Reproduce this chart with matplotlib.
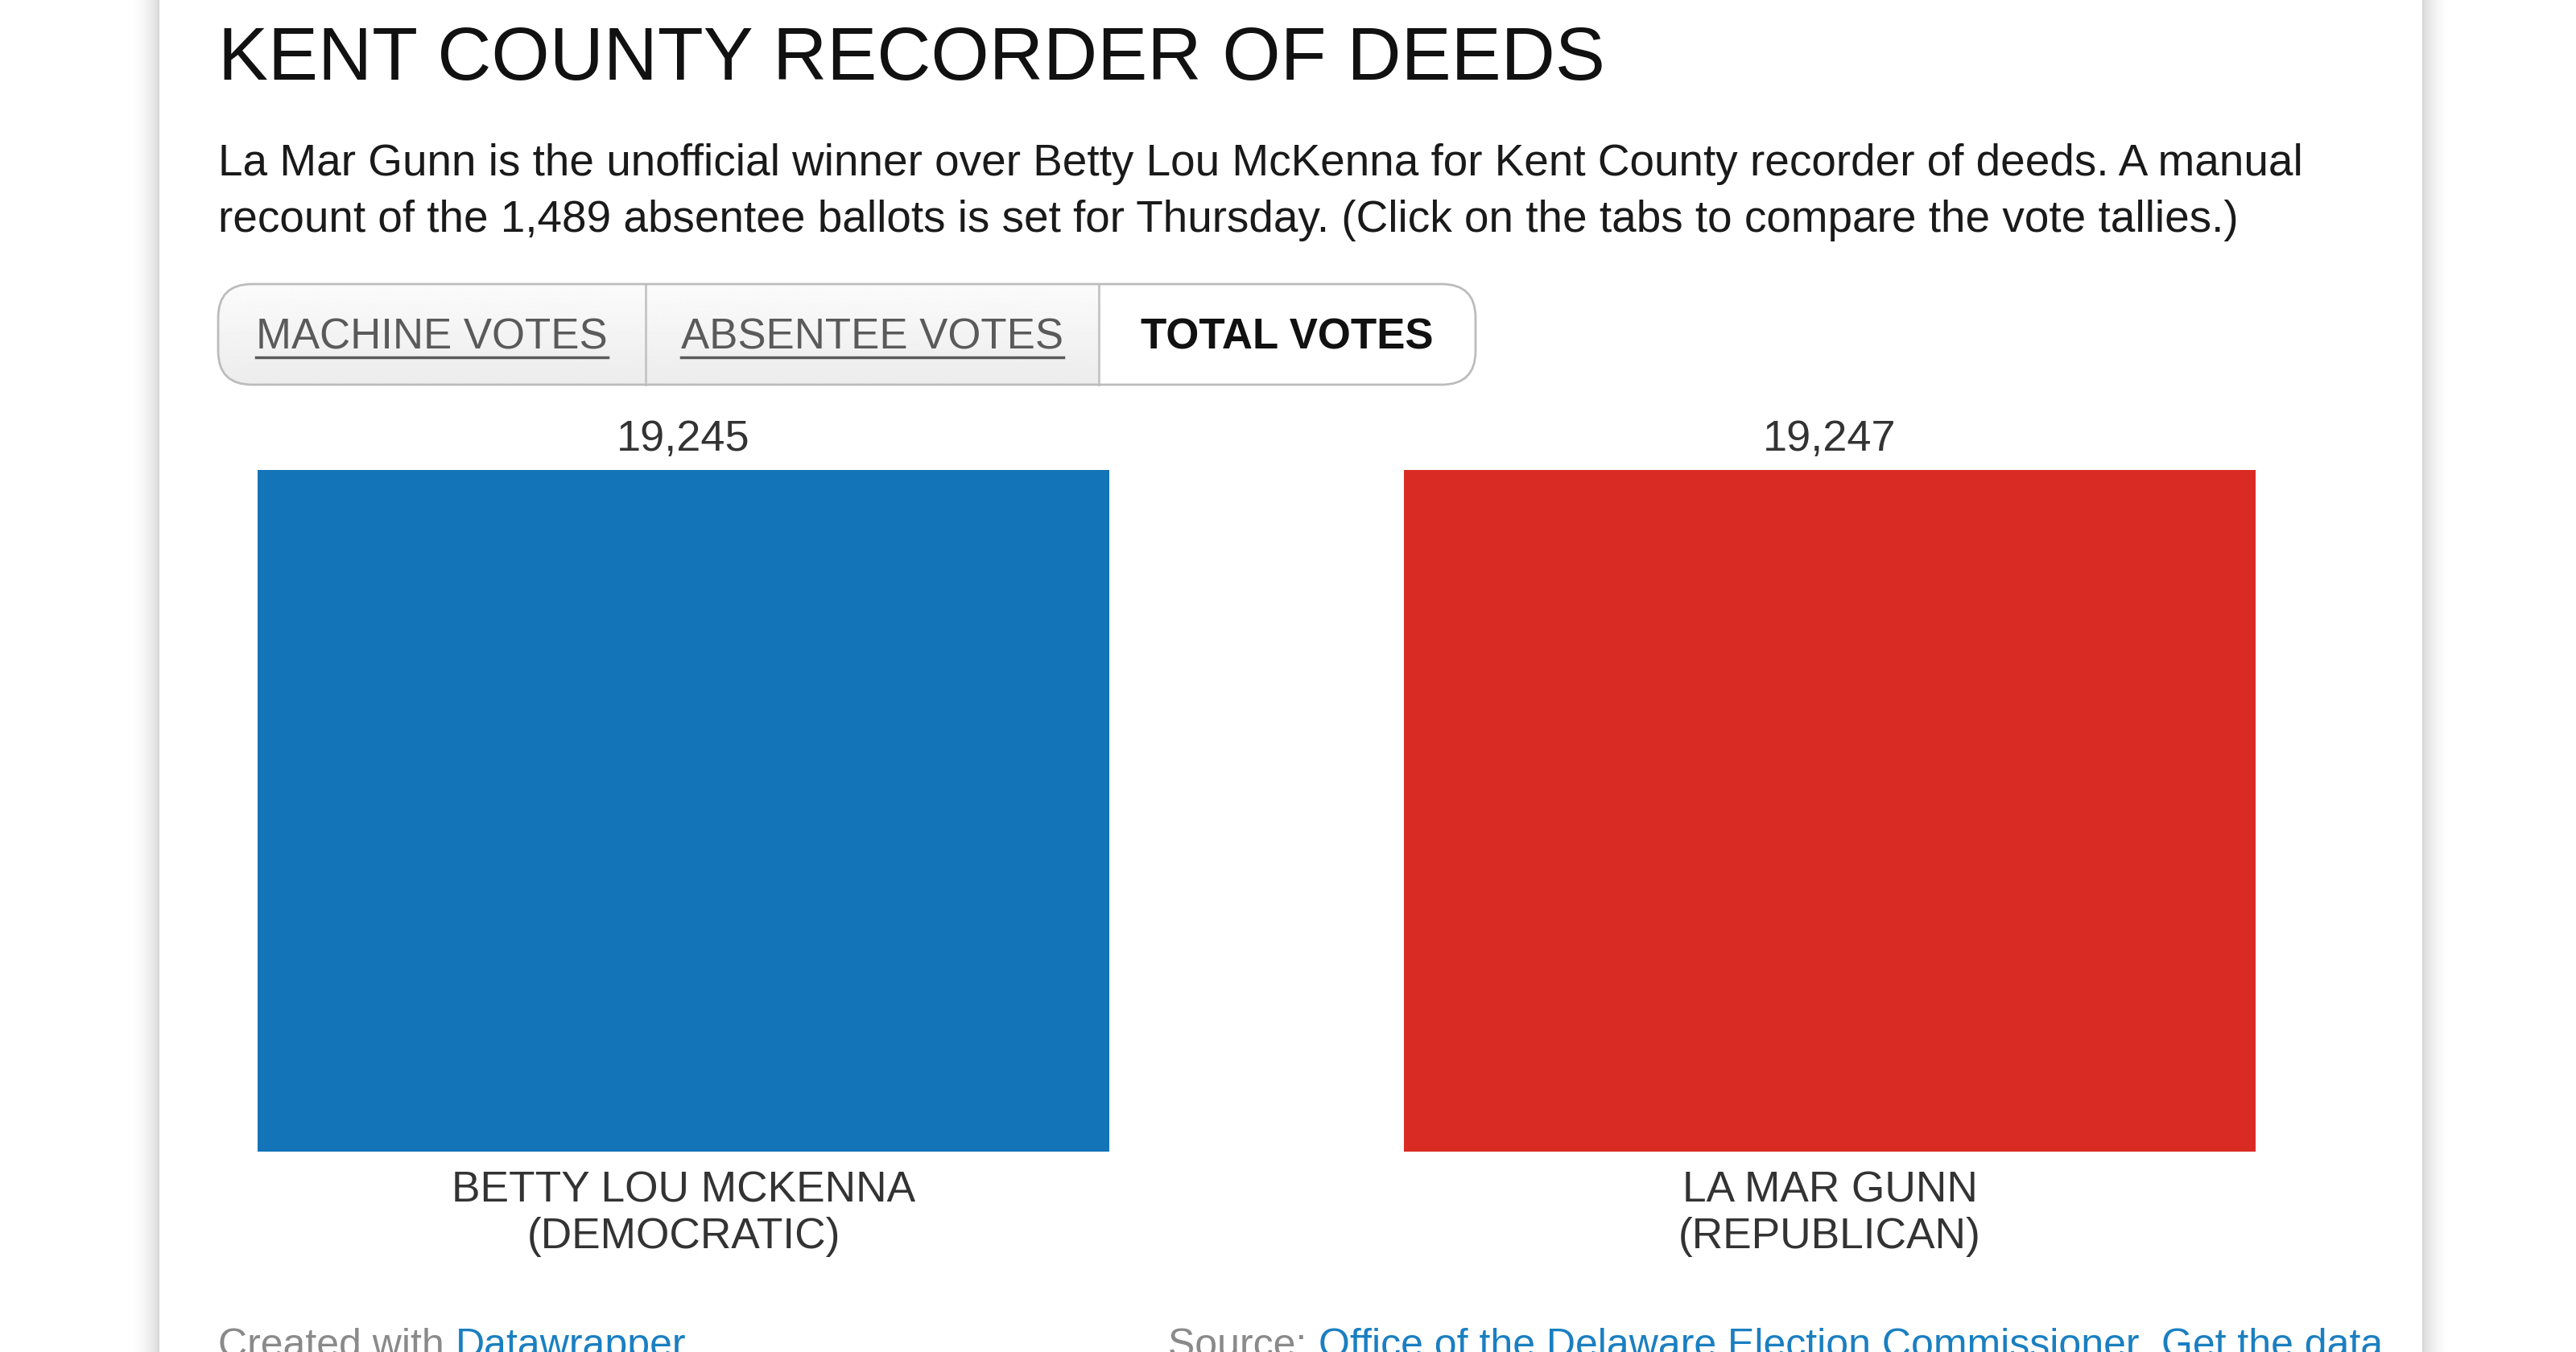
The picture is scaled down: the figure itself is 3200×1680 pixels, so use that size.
import matplotlib
matplotlib.use("Agg")
import matplotlib.pyplot as plt
import numpy as np
from matplotlib.patches import FancyBboxPatch, Rectangle

plt.rcParams['font.family'] = ['Liberation Sans', 'DejaVu Sans']

# data
candidates = ['BETTY LOU MCKENNA\n(DEMOCRATIC)', 'LA MAR GUNN\n(REPUBLICAN)']
votes = [19245, 19247]
bar_colors = ['#1374b7', '#d92b24']
tabs = ['MACHINE VOTES', 'ABSENTEE VOTES', 'TOTAL VOTES']

title = 'KENT COUNTY RECORDER OF DEEDS'
intro_lines = ['La Mar Gunn is the unofficial winner over Betty Lou McKenna for Kent County recorder of deeds. A manual',
               'recount of the 1,489 absentee ballots is set for Thursday. (Click on the tabs to compare the vote tallies.)']

W, H = 3200, 1680
fig = plt.figure(figsize=(W / 100, H / 100), dpi=100)

# background layer in pixel coordinates
bg = fig.add_axes([0, 0, 1, 1])
bg.set_xlim(0, W)
bg.set_ylim(H, 0)
bg.axis('off')

# card shadow + card
card_l, card_r = 197, 3010
for i in range(14):
    a = 0.018 * (14 - i) / 14
    bg.add_patch(Rectangle((card_l - 2 - i * 2.5, -10), card_r - card_l + 4 + i * 5, H + 20,
                           facecolor='black', alpha=a, edgecolor='none', zorder=0))
bg.add_patch(Rectangle((card_l, -10), card_r - card_l, H + 20, facecolor='white',
                       edgecolor='#d8d8d8', linewidth=1.5, zorder=1))

left = 271
bg.text(left, 99, title, fontsize=67, color='#111111', va='baseline', ha='left', zorder=3)
for i, line in enumerate(intro_lines):
    bg.text(left, 218 + 70 * i, line, fontsize=39.5, color='#1a1a1a', va='baseline', ha='left', zorder=3)

# tab bar
tab_bounds = [271, 802, 1365, 1833]
t_top, t_bot = 353, 478
outline = FancyBboxPatch((tab_bounds[0], t_top), tab_bounds[-1] - tab_bounds[0], t_bot - t_top,
                         boxstyle='round,pad=0,rounding_size=42', facecolor='white',
                         edgecolor='none', zorder=2)
bg.add_patch(outline)
grad = np.linspace(0.985, 0.925, 64).reshape(-1, 1)
im = bg.imshow(np.repeat(grad, 2, axis=1), cmap='gray', vmin=0, vmax=1, aspect='auto',
               extent=(tab_bounds[0], tab_bounds[2], t_bot, t_top), zorder=2.1, interpolation='bilinear')
im.set_clip_path(outline)
bg.add_patch(FancyBboxPatch((tab_bounds[0], t_top), tab_bounds[-1] - tab_bounds[0], t_bot - t_top,
                            boxstyle='round,pad=0,rounding_size=42', facecolor='none',
                            edgecolor='#bcbcbc', linewidth=2, zorder=2.5))
for xb in tab_bounds[1:-1]:
    bg.plot([xb, xb], [t_top, t_bot], color='#c4c4c4', lw=2, zorder=2.4)

tab_texts = []
for i, name in enumerate(tabs):
    cx = (tab_bounds[i] + tab_bounds[i + 1]) / 2
    active = i == len(tabs) - 1
    t = bg.text(cx, 433, name, fontsize=38, ha='center', va='baseline',
                color='#111111' if active else '#5a5a5a',
                fontweight='bold' if active else 'normal', zorder=3)
    tab_texts.append((t, active))

# bars
bar_w = 0.743
ax = fig.add_axes([320 / W, 1 - 1431 / H, (2802 - 320) / W, (1431 - 584) / H])
x = np.arange(len(votes))
ax.bar(x, votes, width=bar_w, color=bar_colors)
ax.set_xlim(-bar_w / 2, len(votes) - 1 + bar_w / 2)
ax.set_ylim(0, max(votes))
ax.axis('off')
for xi, v in zip(x, votes):
    ax.annotate(f'{v:,}', (xi, v), xytext=(0, 17), textcoords='offset points',
                ha='center', va='baseline', fontsize=39, color='#333333')
for xi, name in zip(x, candidates):
    ax.annotate(name, (xi, 0), xytext=(0, -17), textcoords='offset points',
                ha='center', va='top', fontsize=38.3, color='#333333', linespacing=1.19)

# footer
fy = 1686
fs = 36
gray, link = '#8a8a8a', '#1a7fc1'
t1 = bg.text(left, fy, 'Created with ', fontsize=fs, color=gray, va='baseline', zorder=3)
fig.canvas.draw()
r = fig.canvas.get_renderer()
ext = t1.get_window_extent(r)
bg.text(left + ext.width, fy, 'Datawrapper', fontsize=fs, color=link, va='baseline', zorder=3)

# right footer, built right-to-left
parts = [('Source: ', gray), ('Office of the Delaware Election Commissioner', link),
         (', ', gray), ('Get the data', link)]
xr = 2960
for s, c in reversed(parts):
    t = bg.text(xr, fy, s, fontsize=fs, color=c, va='baseline', ha='right', zorder=3)
    xr -= t.get_window_extent(r).width

# underline inactive tabs
fig.canvas.draw()
for t, active in tab_texts:
    if active:
        continue
    e = t.get_window_extent(r)
    bg.plot([e.x0, e.x1], [444, 444], color='#5a5a5a', lw=2.5, zorder=3)

fig.savefig('out.png', dpi=100)
